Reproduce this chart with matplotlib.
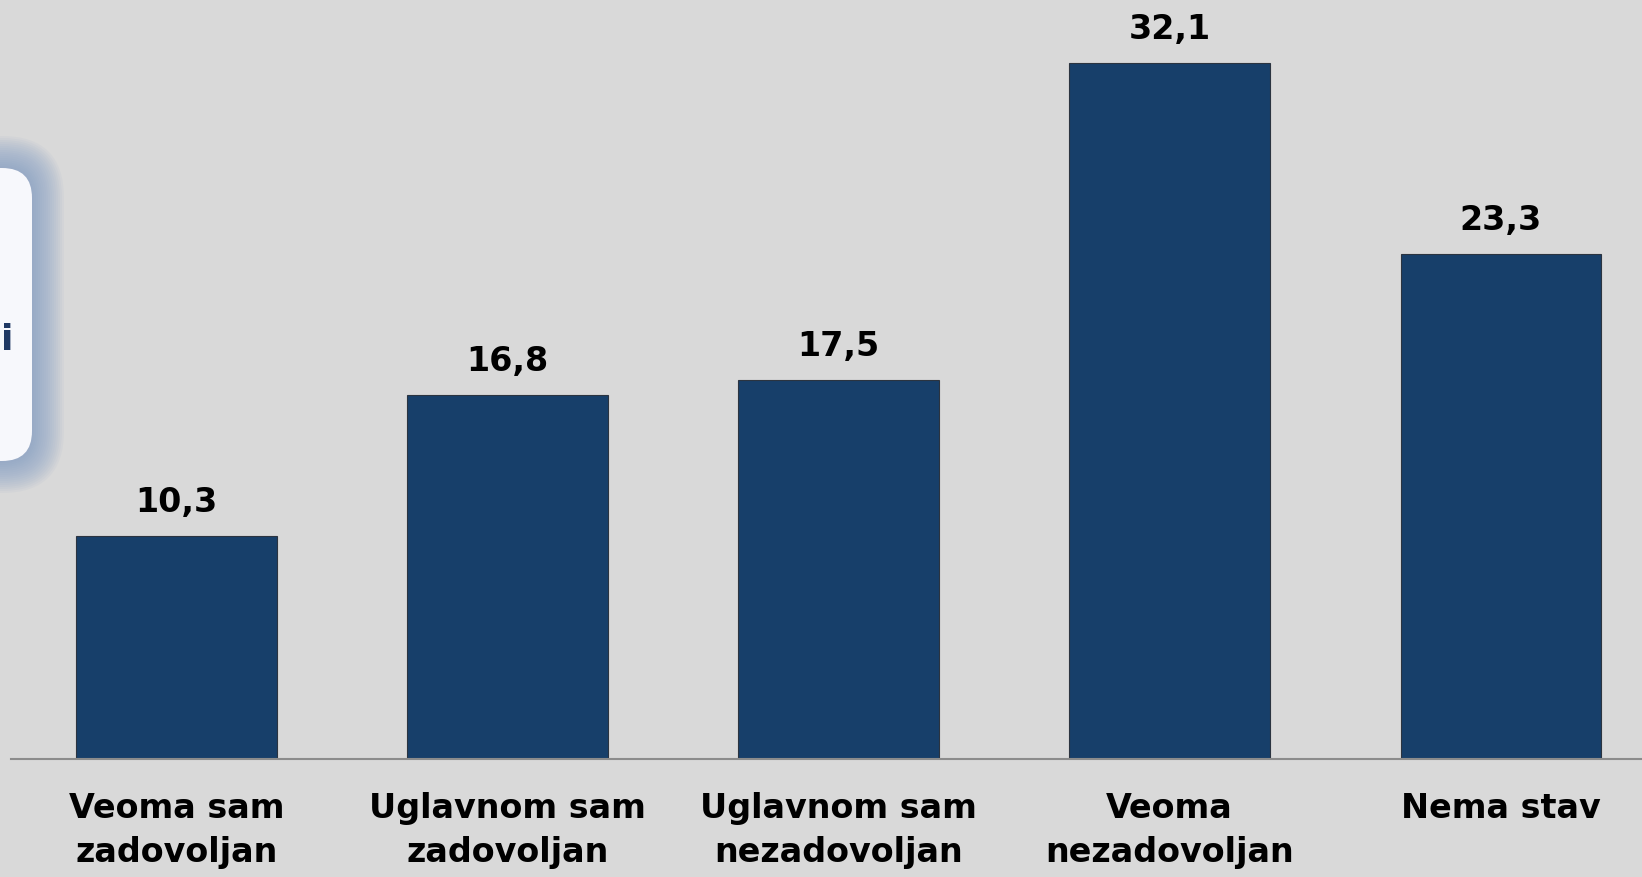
import numpy as np
import matplotlib
matplotlib.use("Agg")
import matplotlib.pyplot as plt
from matplotlib.patches import FancyBboxPatch

categories = ["Veoma sam\nzadovoljan", "Uglavnom sam\nzadovoljan", "Uglavnom sam\nnezadovoljan",
              "Veoma\nnezadovoljan", "Nema stav"]
values = [10.3, 16.8, 17.5, 32.1, 23.3]
value_labels = ["10,3", "16,8", "17,5", "32,1", "23,3"]

bg = "#d9d9d9"
bar_color = "#173f6a"

W, H = 1642, 877
fig = plt.figure(figsize=(W / 100, H / 100), dpi=100)
fig.patch.set_facecolor(bg)

# background layer in pixel coords (for the clipped text box on the left)
bgax = fig.add_axes([0, 0, 1, 1], zorder=0)
bgax.set_xlim(0, W)
bgax.set_ylim(H, 0)
bgax.set_axis_off()
for i in range(16):
    pad = 32 - i * 2.0
    glow = FancyBboxPatch((-60, 168), 92, 293, boxstyle="round,pad=%f,rounding_size=%f" % (pad, 30 + pad),
                          facecolor="#7f9cc4", edgecolor="none", alpha=0.065)
    bgax.add_patch(glow)
box = FancyBboxPatch((-60, 168), 92, 293, boxstyle="round,pad=0,rounding_size=30",
                     facecolor="#f7f8fc", edgecolor="none")
bgax.add_patch(box)
fig.text(0.5 / W, 1 - 340 / H, "i", ha="left", va="center", fontsize=26,
         fontweight="bold", color="#1f3864")

ax = fig.add_axes([11 / W, 118 / H, 1 - 11 / W, 759 / H], zorder=1)
ax.patch.set_alpha(0)
x = np.arange(len(categories))
bars = ax.bar(x, values, width=0.605, color=bar_color, edgecolor="#2b3440", linewidth=0.8)
ax.set_xlim(-0.5, 4.427)
ax.set_ylim(0, 35)

for rect, lab in zip(bars, value_labels):
    ax.annotate(lab, (rect.get_x() + rect.get_width() / 2, rect.get_height()),
                xytext=(0, 12), textcoords="offset points", ha="center", va="bottom",
                fontsize=24, fontweight="bold", color="black")

for s in ["top", "right", "left"]:
    ax.spines[s].set_visible(False)
ax.spines["bottom"].set_color("#8c8c8c")
ax.spines["bottom"].set_linewidth(1.5)
ax.set_yticks([])
ax.set_xticks(x)
ax.set_xticklabels(categories, fontsize=24, fontweight="bold", linespacing=1.4)
ax.tick_params(axis="x", length=0, pad=24)

fig.savefig("out.png", dpi=100, facecolor=bg)
